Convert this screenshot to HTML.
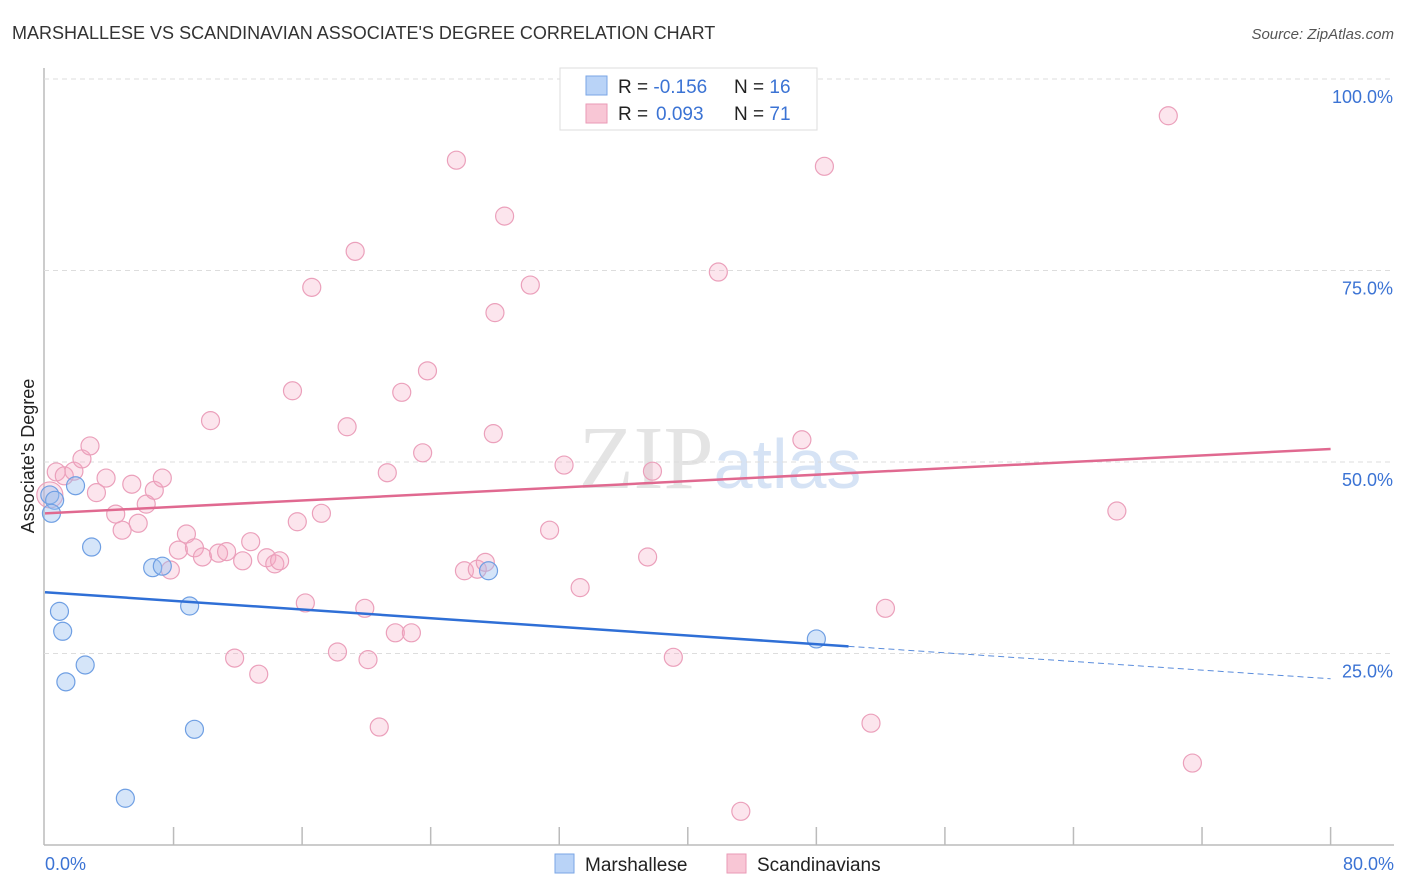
<!DOCTYPE html>
<html><head><meta charset="utf-8"><style>
body{margin:0;background:#fff;font-family:"Liberation Sans",sans-serif;}
svg{display:block}
</style></head><body>
<svg width="1406" height="892" id="c">
<text x="12" y="39" font-size="18" fill="#333">MARSHALLESE VS SCANDINAVIAN ASSOCIATE'S DEGREE CORRELATION CHART</text>
<text x="1394" y="39" font-size="15" fill="#555" font-style="italic" text-anchor="end">Source: ZipAtlas.com</text>
<text x="720" y="488" font-size="90" fill="#e4e4e4" text-anchor="middle" font-family="Liberation Serif,serif">ZIP<tspan fill="#d6e3f5" font-family="Liberation Sans,sans-serif" font-size="70">atlas</tspan></text>
<text transform="translate(34,456) rotate(-90)" font-size="18" fill="#222" text-anchor="middle">Associate's Degree</text>
<g id="grid"></g><g id="pts"></g><g id="lines"></g>
<g>
<rect x="560" y="68" width="257" height="62" fill="#fff" stroke="#ddd"/>
<rect x="586" y="76" width="21" height="19" fill="#b9d3f7" stroke="#7aa6e6"/>
<rect x="586" y="104" width="21" height="19" fill="#f8c6d5" stroke="#ea9ab6"/>
<text x="618" y="93" font-size="19" fill="#222">R = <tspan fill="#3b73d4">-0.156</tspan><tspan x="734">N = </tspan><tspan fill="#3b73d4">16</tspan></text>
<text x="618" y="120" font-size="19" fill="#222">R = <tspan fill="#3b73d4" x="656">0.093</tspan><tspan x="734">N = </tspan><tspan fill="#3b73d4">71</tspan></text>
</g>
<g>
<rect x="555" y="854" width="19" height="19" fill="#b9d3f7" stroke="#7aa6e6"/>
<text x="585" y="871" font-size="19" fill="#222">Marshallese</text>
<rect x="727" y="854" width="19" height="19" fill="#f8c6d5" stroke="#ea9ab6"/>
<text x="757" y="871" font-size="19" fill="#222">Scandinavians</text>
</g>
</svg>
<script>
const xTicks=[0,8,16,24,32,40,48,56,64,72,80];
const yTicks=[25,50,75,100];
const blueX=[0.3,0.6,0.4,1.9,2.9,6.7,7.3,9.0,0.9,1.1,2.5,1.3,9.3,5.0,27.6,48.0];
const blueY=[45.7,45.0,43.3,46.9,38.9,36.2,36.4,31.2,30.5,27.9,23.5,21.3,15.1,6.1,35.8,26.9];
const pinkX=[0.3,0.7,1.2,1.8,2.3,2.8,3.2,3.8,4.4,4.8,5.4,5.8,6.3,6.8,7.3,7.8,8.3,8.8,9.3,9.8,10.3,10.8,11.3,11.8,12.3,12.8,13.3,13.8,14.3,14.6,15.4,15.7,16.2,16.6,17.2,18.2,18.8,19.3,19.9,20.1,20.8,21.3,21.8,22.2,22.8,23.5,23.8,25.6,26.1,26.9,27.4,27.9,28.0,28.6,30.2,31.4,32.3,33.3,37.5,37.8,39.1,41.9,43.3,47.1,48.5,51.4,52.3,66.7,69.9,71.4];
const pinkY=[45.7,48.7,48.2,48.8,50.4,52.1,46.0,47.9,43.2,41.1,47.1,42.0,44.5,46.3,47.9,35.9,38.5,40.6,38.8,37.6,55.4,38.1,38.3,24.4,37.1,39.6,22.3,37.5,36.7,37.1,59.3,42.2,31.6,72.8,43.3,25.2,54.6,77.5,30.9,24.2,15.4,48.6,27.7,59.1,27.7,51.2,61.9,89.4,35.8,36.0,36.9,53.7,69.5,82.1,73.1,41.1,49.6,33.6,37.6,48.8,24.5,74.8,4.4,52.9,88.6,15.9,30.9,43.6,95.2,10.7];
const pinkTrend=[43.3,51.7];
const blueTrend=[33.0,21.7];
const blueSolidEnd=50;
const X=v=>45+v*16.07, Y=v=>845-v*7.66;
const NS="http://www.w3.org/2000/svg";
function mk(t,a,p){const e=document.createElementNS(NS,t);for(const k in a)e.setAttribute(k,a[k]);document.getElementById(p).appendChild(e);return e;}
let e=mk('line',{x1:44,y1:68,x2:44,y2:845,stroke:'#bbb','stroke-width':1.5},'grid');


e=mk('line',{x1:44,y1:845,x2:1394,y2:845,stroke:'#bbb','stroke-width':1.5},'grid');


yTicks.forEach(v=>{
 let g=mk('line',{x1:44,y1:Y(v),x2:1394,y2:Y(v),stroke:'#ddd','stroke-dasharray':'5,4'},'grid');
 
 
 let t=mk('text',{x:1393,y:Y(v)+24,'font-size':18,fill:'#3b73d4','text-anchor':'end'},'grid');t.textContent=v.toFixed(1)+'%';
 
 
});
xTicks.forEach((v,i)=>{
 if(i>0){let l=mk('line',{x1:X(v),y1:827,x2:X(v),y2:845,stroke:'#bbb','stroke-width':1.5},'grid');
 
 }
});
[[0,'0.0%',45,'start'],[80,'80.0%',1394,'end']].forEach(a=>{
 let t=mk('text',{x:a[2],y:870,'font-size':18,fill:'#3b73d4','text-anchor':a[3]},'grid');t.textContent=a[1];
 
 
});
pinkX.forEach((x,i)=>{
 let c=mk('circle',{cx:X(x),cy:Y(pinkY[i]),r:i==0?13:9,fill:'rgba(245,170,195,0.3)',stroke:'#eba0bb','stroke-width':1.2},'pts');
 
 
});
blueX.forEach((x,i)=>{
 let c=mk('circle',{cx:X(x),cy:Y(blueY[i]),r:9,fill:'rgba(150,190,240,0.4)',stroke:'#6f9fe3','stroke-width':1.2},'pts');
 
 
});
const by=x=>blueTrend[0]+(blueTrend[1]-blueTrend[0])*x/80;
e=mk('line',{x1:X(0),y1:Y(pinkTrend[0]),x2:X(80),y2:Y(pinkTrend[1]),stroke:'#e06990','stroke-width':2.5},'lines');


e=mk('line',{x1:X(0),y1:Y(by(0)),x2:X(blueSolidEnd),y2:Y(by(blueSolidEnd)),stroke:'#2f6fd6','stroke-width':2.5},'lines');


e=mk('line',{x1:X(blueSolidEnd),y1:Y(by(blueSolidEnd)),x2:X(80),y2:Y(by(80)),stroke:'#5b8ddc','stroke-width':1,'stroke-dasharray':'6,4'},'lines');


</script>
</body></html>
